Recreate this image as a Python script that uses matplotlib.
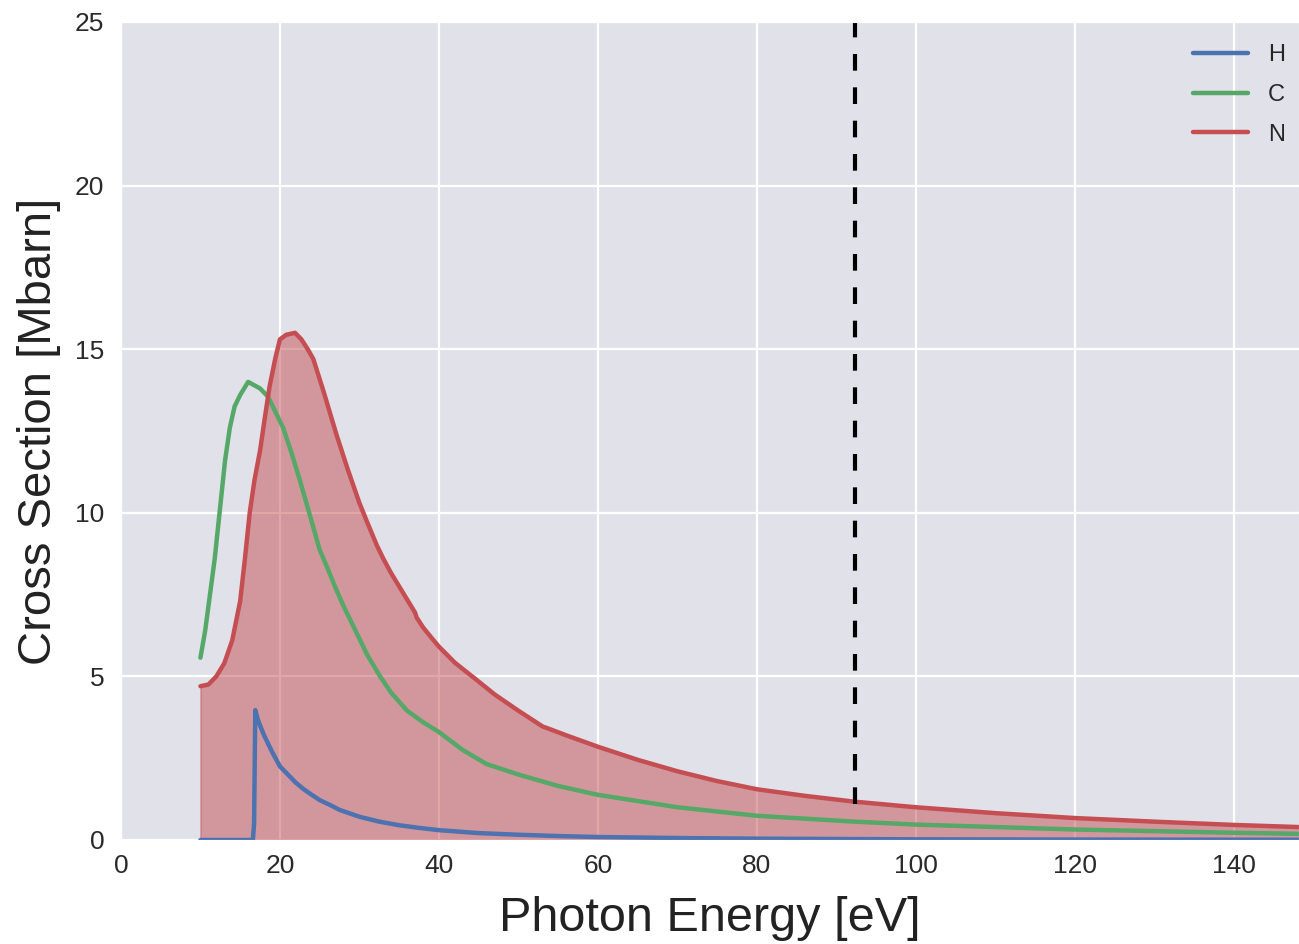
import numpy as np
import matplotlib
matplotlib.use('Agg')
import matplotlib.pyplot as plt
import seaborn as sns

sns.set_style('darkgrid')
plt.rcParams['font.family'] = ['Liberation Sans', 'DejaVu Sans']

# H cross section
hE = [10, 16.6, 16.75, 16.9, 17.2, 17.5, 18, 18.5, 19, 20, 21, 22, 23, 24, 25, 26.3, 27.5, 30,
      32.5, 35, 37.5, 40, 45, 50, 55, 60, 70, 80, 100, 120, 150]
hS = [0, 0, 0.5, 3.97, 3.7, 3.5, 3.2, 2.95, 2.7, 2.25, 2.0, 1.75, 1.55, 1.38, 1.22, 1.07, 0.92, 0.71,
      0.56, 0.45, 0.37, 0.3, 0.21, 0.16, 0.12, 0.09, 0.06, 0.04, 0.02, 0.012, 0.006]

# C cross section
cE = [10, 10.6, 11.2, 11.8, 12.45, 13.1, 13.7, 14.3, 15.0, 16.0, 17.5, 18.5, 19.3, 20.0, 20.4,
      21.5, 22.5, 23.8, 25, 26, 27, 28, 29, 30, 31, 32.6, 34, 36, 38, 40, 43, 46, 50, 55, 60,
      70, 80, 92.3, 100, 120, 140, 150]
cS = [5.57, 6.4, 7.5, 8.6, 10.1, 11.6, 12.6, 13.25, 13.6, 14.0, 13.8, 13.55, 13.15, 12.8, 12.6,
      11.8, 11.0, 9.9, 8.87, 8.3, 7.7, 7.15, 6.65, 6.15, 5.65, 5.0, 4.5, 3.95, 3.6, 3.3, 2.75, 2.32,
      2.0, 1.65, 1.38, 1.0, 0.74, 0.56, 0.47, 0.32, 0.22, 0.18]

# N cross section
nE = [10, 11, 12, 13, 14, 15, 15.6, 16.2, 16.8, 17.5, 18.1, 18.7, 19.4, 20.0, 20.8, 21.9, 22.7,
      23.5, 24.2, 25.5, 27.1, 28.5, 30, 31, 32.2, 33, 34, 35, 36, 37.0, 37.2, 38, 39, 40, 42,
      44.7, 47, 50, 53.1, 53.5, 56, 60, 65, 70, 75, 80, 86, 92.3, 100, 110, 120, 130, 140, 150]
nS = [4.7, 4.75, 5.0, 5.4, 6.1, 7.3, 8.6, 10.0, 11.0, 11.9, 12.9, 13.86, 14.7, 15.3, 15.44, 15.5,
      15.3, 15.0, 14.7, 13.7, 12.4, 11.35, 10.3, 9.7, 9.0, 8.6, 8.15, 7.75, 7.35, 6.95, 6.8, 6.5,
      6.2, 5.91, 5.42, 4.9, 4.45, 3.95, 3.46, 3.43, 3.2, 2.85, 2.45, 2.1, 1.8, 1.55, 1.35, 1.17,
      1.0, 0.82, 0.67, 0.56, 0.46, 0.38]

cutE = 92.3
cutS = 1.1

blue, green, red = '#4C72B0', '#55A868', '#C44E52'

fig = plt.figure(figsize=(12.99, 9.44), dpi=100)
ax = fig.add_axes([0.0931, 0.1102, 0.9069, 0.8665])
ax.set_facecolor('#E1E1E9')

ax.plot(hE, hS, color=blue, lw=3.2, label='H')
ax.plot(cE, cS, color=green, lw=3.2, label='C')
ax.plot(nE, nS, color=red, lw=3.2, label='N')
ax.fill_between(nE, nS, color=red, alpha=0.5)
ax.plot([cutE, cutE], [cutS, 25], color='black', lw=3, ls=(0, (4, 4)))

ax.set_xlim(0, 148.2)
ax.set_ylim(0, 25)
ax.set_xticks(range(0, 141, 20))
ax.set_yticks(range(0, 26, 5))
ax.grid(color='white', lw=1.6)
ax.tick_params(labelsize=19, length=0, labelcolor='#2a2a2a')
ax.tick_params(axis='x', pad=10)
ax.tick_params(axis='y', pad=12)

ax.set_xlabel('Photon Energy [eV]', fontsize=35, color='#222222', labelpad=13)
ax.set_ylabel('Cross Section [Mbarn]', fontsize=34, color='#222222', labelpad=10)

ax.legend(loc='upper right', bbox_to_anchor=(1.0, 0.99), frameon=False,
          fontsize=17, handlelength=2.3, labelspacing=0.75, borderaxespad=0.2,
          handletextpad=0.85, borderpad=0.4)

plt.savefig('out.png', dpi=100)
plt.close()
